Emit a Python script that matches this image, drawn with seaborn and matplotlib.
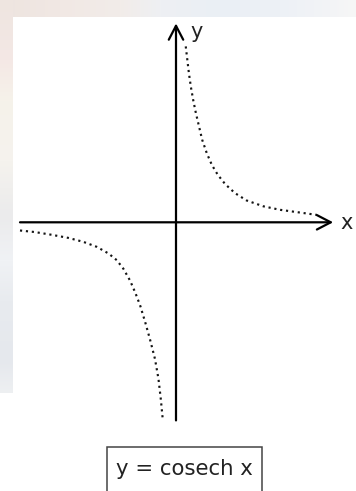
import numpy as np
import pandas as pd
import matplotlib
matplotlib.use("Agg")
import matplotlib.pyplot as plt
from matplotlib.patches import Rectangle
import seaborn as sns

# Branch for x > 0
upper_x = [0.25, 0.29, 0.33, 0.38, 0.44, 0.51, 0.59, 0.67, 0.79, 0.92,
           1.07, 1.26, 1.51, 1.81, 2.24, 2.67, 3.18, 3.61]
upper_y = [4.51, 4.17, 3.83, 3.48, 3.14, 2.80, 2.46, 2.12, 1.77, 1.47,
           1.22, 0.98, 0.75, 0.56, 0.41, 0.32, 0.25, 0.19]

# Branch for x < 0
lower_x = [-4.00, -3.62, -3.19, -2.76, -2.38, -2.03, -1.73, -1.52, -1.35,
           -1.18, -1.05, -0.92, -0.79, -0.67, -0.54, -0.45, -0.39, -0.34]
lower_y = [-0.21, -0.25, -0.32, -0.40, -0.50, -0.63, -0.80, -0.97, -1.19,
           -1.49, -1.79, -2.13, -2.56, -2.99, -3.50, -4.01, -4.53, -5.05]

# Extent of the drawn coordinate axes
x_axis_span = [-4.00, 4.03]
y_axis_span = [-5.08, 5.10]
axis_names = ["x", "y"]
caption = "y = cosech x"

W, H, DPI = 356, 491, 100
fig = plt.figure(figsize=(W / DPI, H / DPI), dpi=DPI)

# --- faded backdrop around the white sheet ---------------------------------
bg = fig.add_axes([0, 0, 1, 1])
img = np.ones((H, W, 3))

def hexrgb(h):
    h = h.lstrip("#")
    return np.array([int(h[i:i + 2], 16) / 255 for i in (0, 2, 4)])

top_stops = [(0, "#ede4df"), (60, "#f1e8e4"), (120, "#f2ece9"), (160, "#eef0f3"),
             (220, "#eaeff5"), (280, "#edf1f6"), (330, "#f3f4f6"), (356, "#f7f7f7")]
left_stops = [(0, "#eee5e0"), (60, "#f4e8e5"), (100, "#f6f2ea"), (160, "#f5f3ee"),
              (215, "#ebebec"), (260, "#f0f2f5"), (300, "#e8ebef"), (360, "#e5e8ed"),
              (393, "#eef0f2")]

cols = np.arange(W)
tp = np.array([p for p, _ in top_stops])
tc = np.array([hexrgb(c) for _, c in top_stops])
top_band = np.stack([np.interp(cols, tp, tc[:, k]) for k in range(3)], axis=1)
img[:17, :, :] = top_band[None, :, :]

rows = np.arange(393)
lp = np.array([p for p, _ in left_stops])
lc = np.array([hexrgb(c) for _, c in left_stops])
left_band = np.stack([np.interp(rows, lp, lc[:, k]) for k in range(3)], axis=1)
img[:393, :13, :] = left_band[:, None, :]

bg.imshow(img, extent=(0, W, H, 0), aspect="auto", interpolation="bilinear")
bg.set_xlim(0, W)
bg.set_ylim(H, 0)
bg.set_axis_off()

# --- main drawing -----------------------------------------------------------
scale = 39.0          # pixels per unit
ox, oy = 176.0, 222.3  # origin in pixels
ax = fig.add_axes([0, 0, 1, 1])
ax.patch.set_alpha(0)
ax.set_xlim(-ox / scale, (W - ox) / scale)
ax.set_ylim(-(H - oy) / scale, oy / scale)
ax.set_axis_off()

curve_style = dict(color="#151515", linewidth=1.55, linestyle=(0, (1, 1.75)),
                   dash_capstyle="butt")
upper = pd.DataFrame({"x": upper_x, "y": upper_y})
lower = pd.DataFrame({"x": lower_x, "y": lower_y})
sns.lineplot(data=upper, x="x", y="y", sort=False, estimator=None, ax=ax, **curve_style)
sns.lineplot(data=lower, x="x", y="y", sort=False, estimator=None, ax=ax, **curve_style)
ax.set_xlabel("")
ax.set_ylabel("")

arrow = dict(arrowstyle="->,head_length=0.5,head_width=0.26", lw=1.6,
             color="black", shrinkA=0, shrinkB=0, mutation_scale=20)
ax.annotate("", xy=(x_axis_span[1], 0), xytext=(x_axis_span[0], 0), arrowprops=arrow)
ax.annotate("", xy=(0, y_axis_span[1]), xytext=(0, y_axis_span[0]), arrowprops=arrow)

ax.text(4.22, -0.17, axis_names[0], fontsize=15, color="#222222",
        ha="left", va="baseline")
ax.text(0.38, 4.72, axis_names[1], fontsize=15, color="#222222",
        ha="left", va="baseline")

# caption box
ax.add_patch(Rectangle((-1.76, -7.6), 3.97, 7.6 - 5.75, fill=False,
                       edgecolor="#444444", linewidth=1.1))
ax.text(0.205, -6.48, caption, fontsize=15.3, color="#222222",
        ha="center", va="baseline")

fig.savefig("out.png", dpi=DPI)
